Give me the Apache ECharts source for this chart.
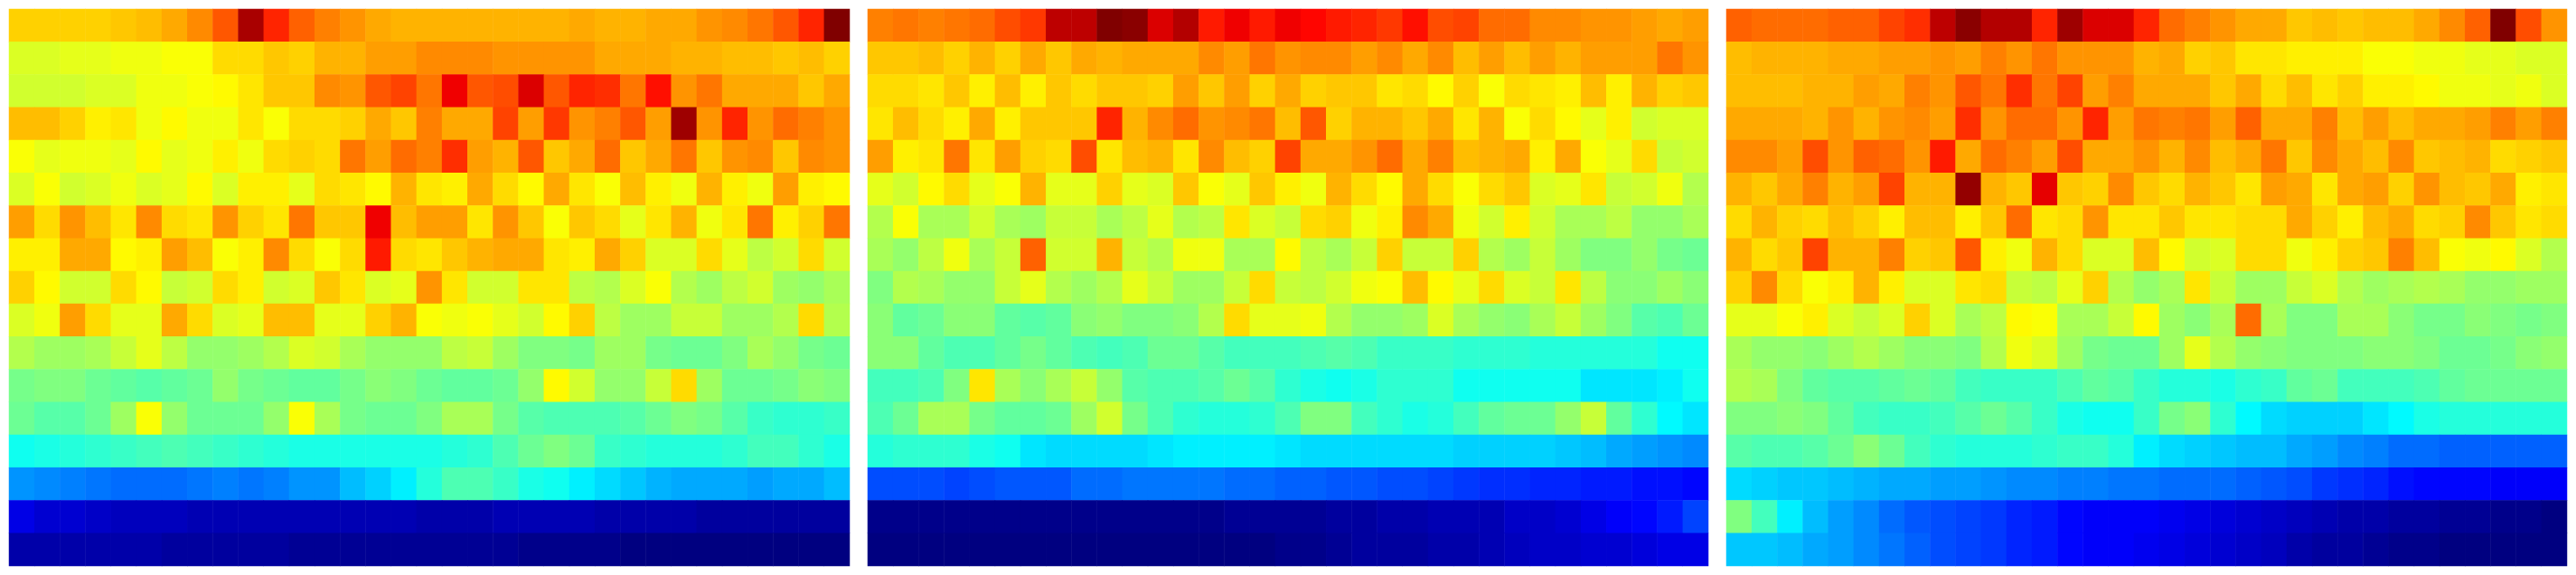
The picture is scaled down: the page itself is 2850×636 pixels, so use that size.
<!DOCTYPE html>
<html>
<head>
<meta charset="utf-8">
<style>html,body{margin:0;padding:0;background:#fff}#c{width:2850px;height:636px}</style>
<script src="https://cdn.jsdelivr.net/npm/echarts@6/dist/echarts.min.js"></script>
</head>
<body>
<div id="c"></div>
<script>
const panelA = [
[67,67,67,67,68,69,71,74,79,96,84,78,75,73,71,70,70,70,70,70,70,70,71,70,70,71,71,73,74,76,79,84,100],
[59,59,60,60,61,61,62,62,66,66,68,67,70,70,72,72,74,74,74,73,73,73,73,71,71,71,70,70,69,69,68,69,67],
[58,58,58,59,59,61,61,62,63,65,68,68,74,73,79,81,76,89,79,80,91,79,84,83,76,86,73,76,71,71,71,68,71],
[69,69,67,64,65,61,63,61,61,65,62,66,66,67,71,68,75,71,71,81,72,82,73,75,79,72,97,73,84,73,77,75,73],
[62,60,61,61,60,63,60,61,64,61,66,67,66,76,72,77,75,83,72,70,79,68,71,77,68,71,76,68,73,74,68,74,73],
[59,62,58,59,61,59,60,63,59,64,64,60,66,65,63,70,65,64,71,66,63,71,65,62,69,64,61,70,64,61,72,64,63],
[72,66,73,69,65,74,66,65,73,67,65,76,68,68,89,69,72,72,65,73,68,62,68,66,60,65,70,61,65,76,64,67,76],
[64,64,71,71,63,64,72,69,62,64,74,66,62,66,85,66,65,68,70,71,71,65,64,71,67,59,59,66,60,56,58,66,58],
[67,63,58,58,66,63,57,58,66,64,58,59,68,65,59,60,73,65,58,58,65,65,56,55,59,62,55,53,56,58,53,52,54],
[59,61,72,66,60,60,71,66,59,60,69,69,60,60,67,70,62,61,62,60,58,63,67,56,53,53,57,57,53,53,55,66,55],
[55,53,53,54,57,60,56,52,52,53,55,59,58,54,52,52,52,56,57,53,50,50,49,53,53,49,48,48,50,54,52,49,48],
[49,50,50,48,47,46,47,48,52,49,48,47,47,49,51,50,48,47,47,48,52,63,58,52,52,57,66,53,48,48,49,51,50],
[48,46,46,48,53,62,52,48,48,48,52,62,54,49,48,48,50,54,54,49,46,45,45,45,46,48,50,49,46,43,42,42,43],
[39,40,41,42,43,44,45,44,43,42,41,40,40,40,40,40,40,41,42,45,48,50,48,43,42,41,41,41,42,44,44,42,40],
[27,26,25,24,23,23,23,24,25,24,25,27,27,31,33,36,41,45,45,43,40,39,36,34,32,30,29,29,29,28,29,29,31],
[10,8,8,7,6,6,6,5,5,5,5,5,5,5,5,5,4,4,4,5,5,5,5,4,4,4,4,3,3,3,3,3,3],
[4,4,4,4,4,4,3,3,3,3,3,2,2,2,2,2,2,2,2,2,1,1,1,1,0,0,0,0,0,0,0,0,0]
];
const panelB = [
[75,76,75,76,77,80,82,94,94,100,99,91,95,85,89,85,89,87,85,84,82,86,80,81,77,77,74,74,73,73,72,71,72],
[68,68,69,67,70,67,71,68,71,70,71,71,71,74,72,76,73,74,74,72,74,71,74,69,72,69,72,70,72,72,72,76,73],
[66,66,65,68,64,69,64,68,66,68,68,67,72,68,72,67,71,67,68,68,65,66,63,67,62,66,65,64,69,64,70,67,68],
[65,69,66,64,71,64,68,68,68,84,70,74,77,73,74,76,69,79,67,70,70,68,71,65,70,62,66,63,60,64,58,59,59],
[72,64,65,76,65,72,67,66,80,65,69,70,65,74,69,67,81,71,71,73,77,71,75,69,70,71,64,71,62,60,66,57,58],
[60,58,63,66,60,62,70,60,60,67,60,59,68,62,60,68,64,61,70,66,63,71,66,62,66,68,59,60,65,57,58,61,55],
[55,62,54,54,58,54,53,57,57,54,56,60,55,56,65,59,57,66,67,61,64,74,71,61,58,64,58,54,54,56,52,52,54],
[54,52,56,61,54,57,78,58,58,70,57,55,61,61,54,54,63,56,54,57,67,57,57,67,55,53,57,53,50,50,52,49,48],
[50,55,54,52,52,57,60,55,53,55,60,57,53,53,57,66,57,56,58,61,62,69,63,60,66,59,57,65,56,51,51,53,51],
[51,47,48,51,51,47,46,47,51,52,50,50,51,55,66,60,60,61,55,52,52,53,59,54,52,51,54,57,53,50,46,45,48],
[51,51,47,45,45,47,49,47,45,44,45,48,48,46,44,44,44,45,46,45,43,43,43,42,42,42,41,41,41,41,41,39,39],
[44,44,45,50,65,54,51,54,57,52,46,45,45,46,48,46,42,40,39,40,42,42,42,39,39,39,39,39,35,35,35,36,39],
[45,48,54,54,49,47,47,48,53,58,49,45,42,41,41,42,45,50,50,44,42,40,41,44,47,48,48,52,57,47,42,37,35],
[41,42,42,42,40,39,35,34,34,34,34,35,36,36,36,36,35,34,34,34,34,34,34,33,33,33,33,32,31,29,28,27,26],
[20,20,20,19,20,21,21,21,23,23,24,24,24,24,23,23,22,22,21,21,20,20,19,18,17,17,16,16,15,15,14,14,13],
[1,1,1,1,1,1,1,1,1,1,1,1,1,1,2,2,2,2,3,3,4,4,5,5,5,7,7,8,10,12,13,15,19],
[0,0,0,0,0,0,0,0,0,0,0,0,0,0,0,0,1,1,2,3,3,3,4,4,5,6,7,7,8,8,9,10,10]
];
const panelC = [
[78,77,77,77,78,78,81,83,94,99,95,95,84,97,91,91,84,77,75,73,71,71,68,69,68,69,69,71,74,78,100,80,73],
[69,70,70,70,71,71,72,72,73,72,75,73,76,73,73,73,70,71,67,68,65,65,64,64,64,62,62,61,61,60,60,59,59],
[69,69,69,70,70,72,71,75,73,79,76,83,76,81,72,75,71,71,71,68,71,66,69,65,67,64,64,63,61,61,60,61,59],
[71,71,71,70,73,70,73,74,72,83,73,77,77,73,84,72,76,75,76,72,78,71,71,75,69,72,69,71,71,72,75,72,75],
[74,74,72,80,73,78,77,73,85,71,77,75,72,80,71,71,73,70,74,69,71,76,68,74,71,69,74,68,69,70,66,67,68],
[70,68,71,75,70,72,81,70,70,98,70,68,90,68,67,74,68,66,70,68,65,72,71,65,71,72,67,73,69,68,71,64,65],
[66,70,67,66,69,67,64,69,69,64,68,77,65,66,73,65,65,68,65,65,66,66,71,67,64,69,71,66,67,74,68,65,66],
[70,66,68,81,70,70,75,67,68,79,64,61,70,66,59,59,69,63,58,59,66,66,61,64,67,68,75,69,62,61,63,59,55],
[67,74,66,62,64,70,64,59,59,65,66,57,56,60,67,55,52,54,65,57,53,53,57,59,55,53,54,55,54,52,52,53,53],
[60,60,62,64,59,57,59,67,59,54,56,63,62,54,54,57,63,53,51,54,77,54,50,50,54,54,51,49,49,51,50,49,50],
[54,52,52,51,53,55,53,51,51,50,55,61,59,53,49,48,48,53,60,55,52,51,50,50,50,51,51,50,48,48,49,51,52],
[55,54,50,47,46,46,47,48,47,44,43,43,43,45,47,46,43,41,41,40,42,43,47,48,44,44,44,45,47,48,48,48,48],
[50,50,51,50,47,44,43,43,44,46,48,46,43,40,39,39,43,49,51,42,37,34,33,33,33,35,37,40,41,41,41,41,41],
[46,45,45,46,48,51,48,44,42,41,41,41,42,43,43,41,36,34,33,32,31,31,29,28,26,25,23,23,22,22,22,22,22],
[34,33,32,32,31,30,29,29,28,28,27,26,26,25,25,24,24,23,23,23,22,21,20,18,17,16,14,13,13,13,12,12,12],
[50,44,36,31,28,26,23,21,20,19,18,16,15,13,12,12,12,11,10,9,8,7,6,5,4,4,3,3,2,2,1,1,0],
[32,32,31,29,28,26,24,22,20,19,18,16,15,13,12,12,11,10,9,8,7,6,4,3,3,2,1,1,0,0,0,0,0]
];
const panels = [panelA, panelB, panelC];
const jet = ['#000080','#0000ff','#0080ff','#00ffff','#80ff80','#ffff00','#ff8000','#ff0000','#800000'];
const columns = panelA[0].map((_, i) => String(i));
const rows = panelA.map((_, i) => String(i));

const panelLeft = [10, 960, 1910];
const chart = echarts.init(document.getElementById('c'), null, {renderer: 'canvas'});
chart.setOption({
  animation: false,
  backgroundColor: '#ffffff',
  tooltip: {show: false},
  grid: panels.map((_, i) => ({left: panelLeft[i], top: 10, width: 930, height: 616})),
  xAxis: panels.map((_, i) => ({type: 'category', gridIndex: i, data: columns, show: false, splitArea: {show: false}})),
  yAxis: panels.map((_, i) => ({type: 'category', gridIndex: i, data: rows, inverse: true, show: false, splitArea: {show: false}})),
  visualMap: {type: 'continuous', show: false, min: 0, max: 100, seriesIndex: [0, 1, 2], inRange: {color: jet}},
  series: panels.map((p, i) => ({
    type: 'heatmap',
    xAxisIndex: i,
    yAxisIndex: i,
    progressive: 0,
    itemStyle: {borderWidth: 0},
    emphasis: {disabled: true},
    data: p.flatMap((row, y) => row.map((v, x) => [x, y, v]))
  }))
});
</script>
</body>
</html>
